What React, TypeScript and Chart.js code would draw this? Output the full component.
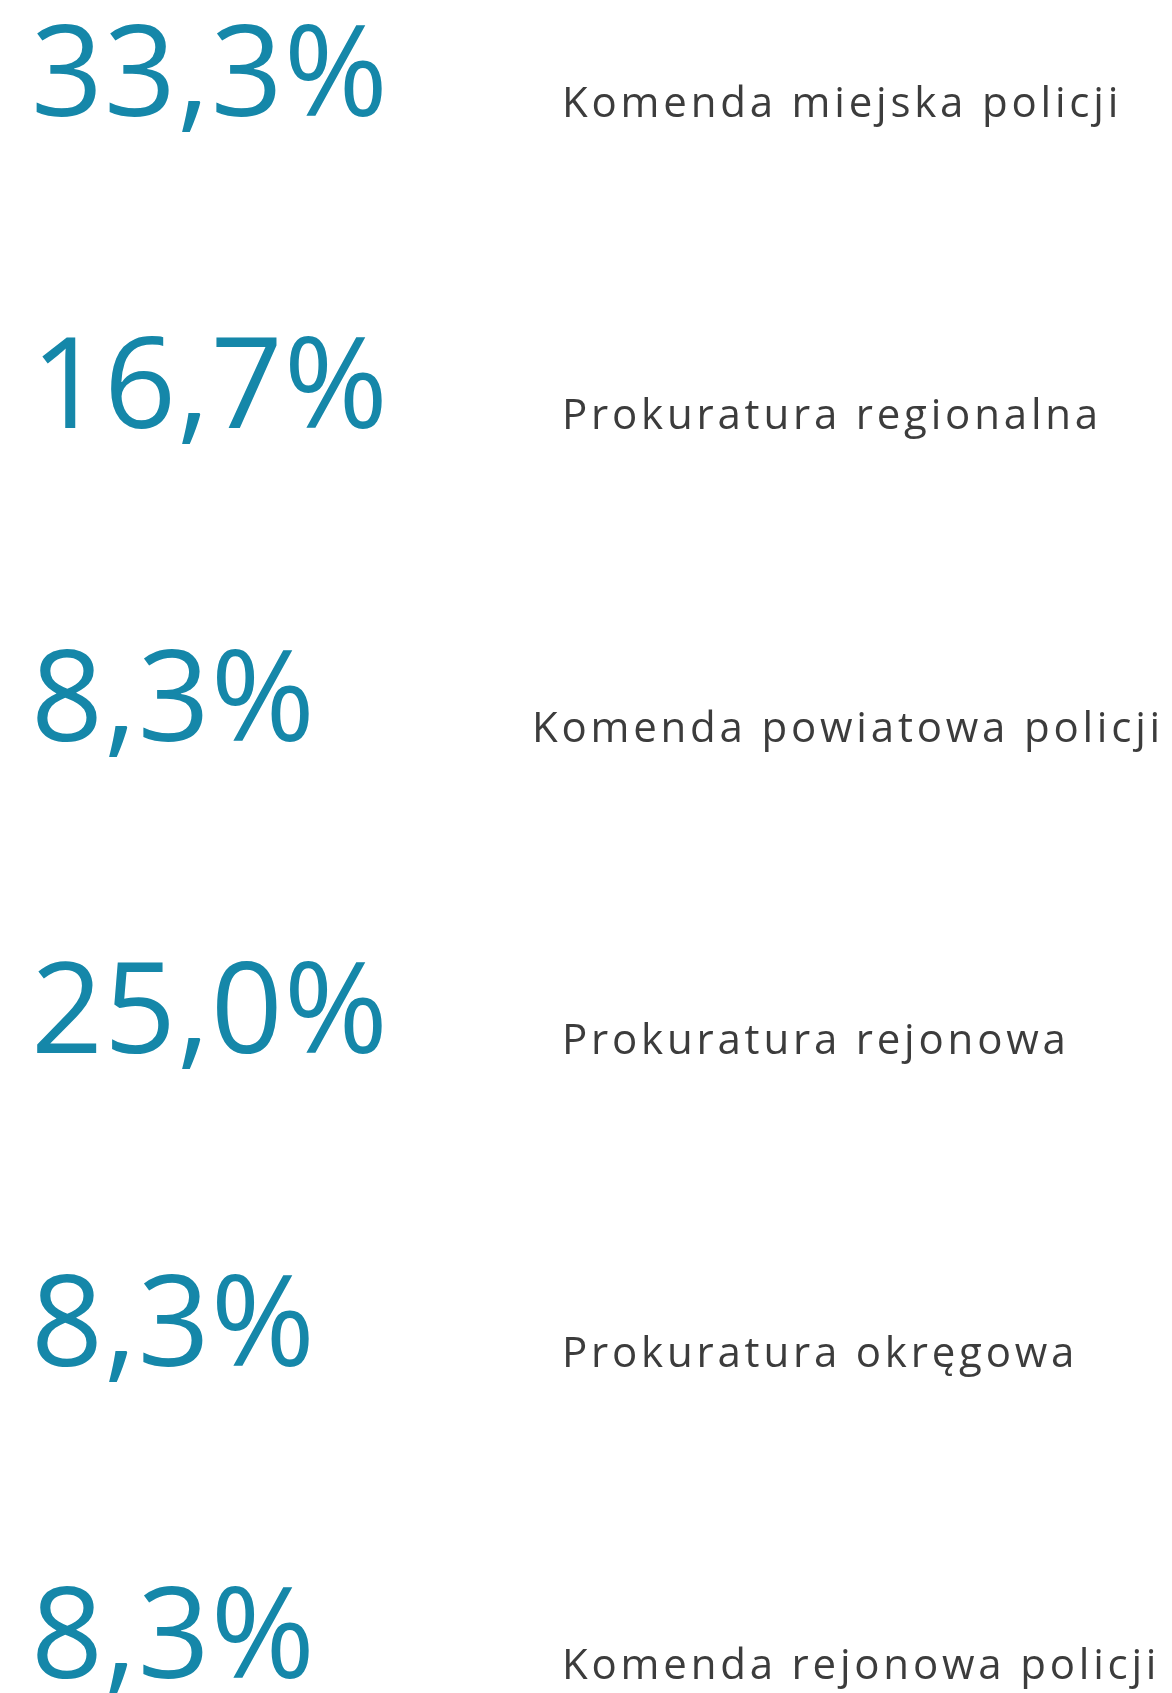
import React, { useEffect, useRef } from "react";
import { Chart, registerables } from "chart.js";

Chart.register(...registerables);

// Categories (top to bottom) and their shares in percent
const categories: string[] = [
  "Komenda miejska policji",
  "Prokuratura regionalna",
  "Komenda powiatowa policji",
  "Prokuratura rejonowa",
  "Prokuratura okręgowa",
  "Komenda rejonowa policji",
];
const shares: number[] = [33.3, 16.7, 8.3, 25.0, 8.3, 8.3];

const WIDTH = 1172;
const HEIGHT = 1693;
const PCT_COLOR = "#1587a9";
const LABEL_COLOR = "#3c3c3c";
const FONT = '"Open Sans", "Noto Sans", sans-serif';

const formatPct = (v: number) => v.toFixed(1).replace(".", ",") + "%";

const textPlugin = {
  id: "rowText",
  afterDatasetsDraw(chart: any) {
    const ctx: CanvasRenderingContext2D = chart.ctx;
    const meta = chart.getDatasetMeta(0);
    const area = chart.chartArea;
    ctx.save();
    ctx.textBaseline = "alphabetic";
    ctx.textAlign = "left";
    meta.data.forEach((el: any, i: number) => {
      const y = el.y;
      // big percentage
      ctx.font = `126px ${FONT}`;
      (ctx as any).letterSpacing = "1px";
      ctx.fillStyle = PCT_COLOR;
      ctx.fillText(formatPct(shares[i]), area.left + 31, y + 4);
      // category label
      ctx.font = `42px ${FONT}`;
      (ctx as any).letterSpacing = "3.8px";
      ctx.fillStyle = LABEL_COLOR;
      const w = ctx.measureText(categories[i]).width;
      const x = Math.min(area.left + 562, area.right - 8 - w);
      ctx.fillText(categories[i], x, y + 5);
    });
    ctx.restore();
  },
};

export default function App() {
  const ref = useRef<HTMLCanvasElement | null>(null);

  useEffect(() => {
    document.body.style.margin = "0";
    if (!ref.current) return;
    const chart = new Chart(ref.current, {
      type: "scatter",
      data: {
        labels: categories,
        datasets: [
          {
            label: "Udział",
            data: shares.map((v, i) => ({ x: v, y: i })),
            pointRadius: 0,
            pointHoverRadius: 0,
            backgroundColor: "transparent",
            borderColor: "transparent",
          },
        ],
      },
      options: {
        animation: false,
        responsive: false,
        devicePixelRatio: 1,
        layout: { padding: 0 },
        events: [],
        plugins: {
          legend: { display: false },
          tooltip: { enabled: false },
        },
        scales: {
          x: { type: "linear", display: false, min: 0, max: 100 },
          y: {
            type: "linear",
            display: false,
            reverse: true,
            min: -0.3568,
            max: 5.0608,
          },
        },
      },
      plugins: [textPlugin],
    });
    return () => chart.destroy();
  }, []);

  return (
    <div style={{ position: "absolute", left: 0, top: 0, width: WIDTH, height: HEIGHT, background: "#fff" }}>
      <canvas ref={ref} width={WIDTH} height={HEIGHT} />
    </div>
  );
}
